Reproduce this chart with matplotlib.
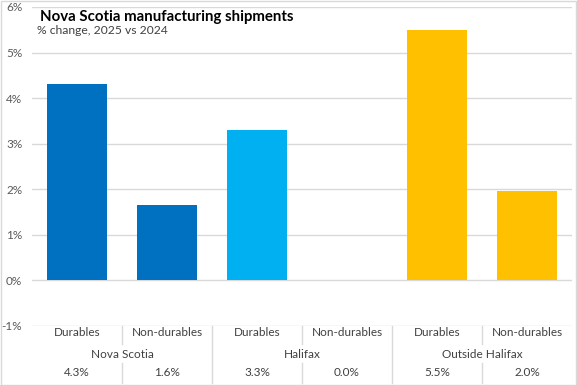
import matplotlib
matplotlib.use("Agg")
import matplotlib.pyplot as plt
from matplotlib.transforms import blended_transform_factory
from matplotlib.lines import Line2D
from matplotlib.patches import Rectangle

groups = ["Nova Scotia", "Halifax", "Outside Halifax"]
categories = ["Durables", "Non-durables"]
values = [4.3, 1.65, 3.3, 0.0, 5.5, 1.97]
value_labels = ["4.3%", "1.6%", "3.3%", "0.0%", "5.5%", "2.0%"]
group_colors = ["#0070C0", "#00B0F0", "#FFC000"]
yticks = [-1, 0, 1, 2, 3, 4, 5, 6]

plt.rcParams['font.family'] = ['Lato', 'DejaVu Sans']

W, H = 577, 385
fig = plt.figure(figsize=(W / 100, H / 100), dpi=100)

def fy(py):
    return 1 - py / H

left, right, top, bottom = 32, 572, 7, 326
ax = fig.add_axes([left / W, fy(bottom), (right - left) / W, (bottom - top) / H])

n = len(values)
xs = list(range(n))
colors = [group_colors[i // 2] for i in range(n)]
ax.bar(xs, values, width=0.667, color=colors, zorder=3)
ax.set_xlim(-0.5, n - 0.5)
ax.set_ylim(-1, 6)
ax.set_yticks(yticks)
ax.set_yticklabels([f"{t}%" for t in yticks], color="#595959", fontsize=8.5)
ax.tick_params(axis='y', length=0, pad=7)
ax.set_xticks([])
for s in ax.spines.values():
    s.set_visible(False)
ax.grid(axis='y', color="#D9D9D9", linewidth=1, zorder=0)

tr = blended_transform_factory(ax.transData, fig.transFigure)
txtc = "#404040"
for i in range(n):
    ax.text(i, fy(333), categories[i % 2], transform=tr, ha='center', va='center',
            fontsize=8.5, color=txtc, clip_on=False)
    ax.text(i, fy(373), value_labels[i], transform=tr, ha='center', va='center',
            fontsize=8.5, color=txtc, clip_on=False)
for g, name in enumerate(groups):
    ax.text(2 * g + 0.5, fy(355), name, transform=tr, ha='center', va='center',
            fontsize=8.5, color=txtc, clip_on=False)

lc = "#D9D9D9"
for g in range(len(groups)):
    xi = 2 * g + 0.5
    fig.add_artist(Line2D([xi, xi], [fy(326), fy(344)], transform=tr, color=lc, lw=1))
    fig.add_artist(Line2D([xi, xi], [fy(363), fy(383)], transform=tr, color=lc, lw=1))
for g in range(1, len(groups)):
    xi = 2 * g - 0.5
    fig.add_artist(Line2D([xi, xi], [fy(326), fy(383)], transform=tr, color=lc, lw=1))

fig.add_artist(Rectangle((0.5 / W, 0.5 / H), (W - 1.5) / W, (H - 1.5) / H,
                         transform=fig.transFigure, fill=False, edgecolor="#D9D9D9", lw=1))

fig.text(40 / W, fy(17), "Nova Scotia manufacturing shipments", fontsize=10.8,
         fontweight='bold', color="#000000", va='center', ha='left')
fig.text(37 / W, fy(30), "% change, 2025 vs 2024", fontsize=8.7, color="#404040",
         va='center', ha='left')

fig.savefig("out.png", dpi=100)
